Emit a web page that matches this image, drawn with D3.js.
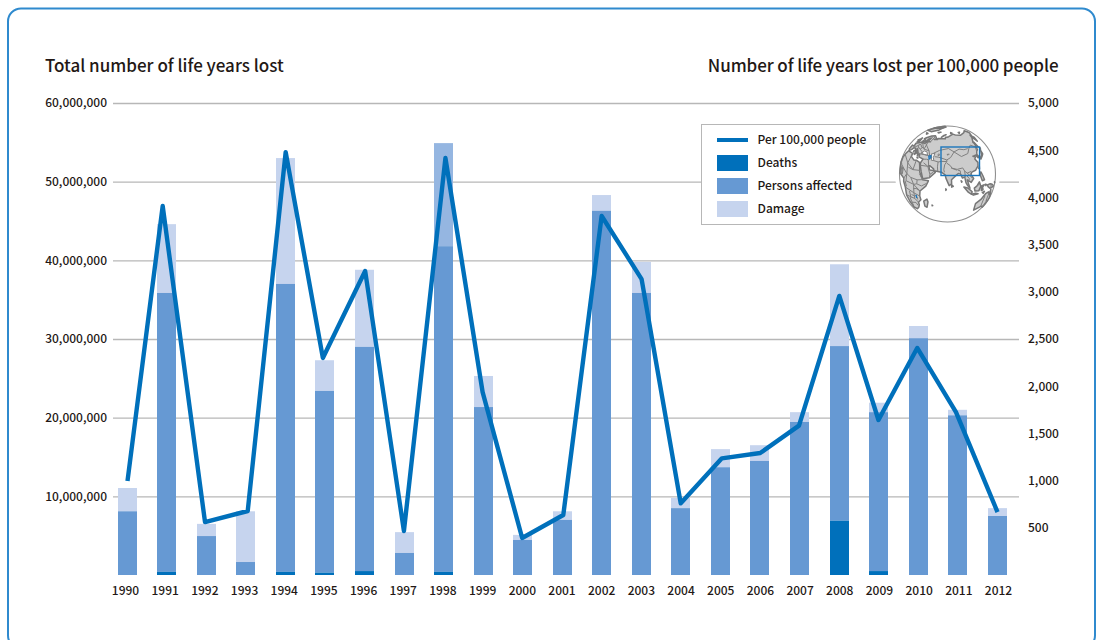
<!DOCTYPE html>
<html><head><meta charset="utf-8">
<script src="https://cdn.jsdelivr.net/npm/d3@7/dist/d3.min.js"></script>
<style>
html,body{margin:0;padding:0;background:#fff;overflow:hidden}
svg{display:block}
text,.tick text{font-family:"Noto Sans CJK JP","Noto Sans",sans-serif;font-weight:500;fill:#231815}
</style></head><body>
<svg id="c" width="1101" height="640"></svg>
<script>
const years=["1990","1991","1992","1993","1994","1995","1996","1997","1998","1999","2000","2001","2002","2003","2004","2005","2006","2007","2008","2009","2010","2011","2012"];
const deaths=[0,0.4,0,0,0.4,0.3,0.5,0,0.4,0,0,0,0,0,0,0,0,0,6.9,0.5,0,0,0];
const personsTop=[8.1,35.85,4.95,1.65,37,23.4,29,2.8,41.8,21.35,4.45,7.0,46.3,35.85,8.5,13.7,14.5,19.45,29.1,20.7,30.1,20.3,7.5];
const totalTop=[11.06,44.6,6.5,8.1,53,27.3,38.8,5.45,54.9,25.3,5.1,8.1,48.3,39.8,9.8,16,16.5,20.7,39.5,21.9,31.65,21,8.5];
const per100k=[996,3909,561,678,4480,2299,3220,466,4417,1938,392,636,3803,3135,760,1236,1292,1582,2956,1642,2405,1725,667];
// the line's points sit slightly off the bar centres in the picture: read as decimal years
const lineYears=[1990,1990.89,1991.96,1993.04,1994,1994.94,1996.01,1996.99,1998.04,1998.98,1999.98,2001.02,2001.99,2003,2003.99,2005.03,2006,2006.98,2008,2008.99,2009.97,2010.95,2012];
const leftTicks=[10,20,30,40,50,60];
const rightTicks=[500,1000,1500,2000,2500,3000,3500,4000,4500,5000];
const legendItems=["Per 100,000 people","Deaths","Persons affected","Damage"];
const darkerDamageYear="1998";

const C={deaths:"#0070bb",persons:"#6699d3",damage:"#c6d4ee",damage2:"#95b6e1",line:"#0070bb",grid:"#b7b7b7",frame:"#2f8ace"};
const svg=d3.select("#c");
svg.append("rect").attr("x",8).attr("y",8.5).attr("width",1087).attr("height",640).attr("rx",13)
  .attr("fill","#fff").attr("stroke",C.frame).attr("stroke-width",2);

const yL=d3.scaleLinear().domain([0,60]).range([575,103]);
const yR=d3.scaleLinear().domain([0,5000]).range([575,103]);
const xB=d3.scaleBand().domain(years).range([107.73,1017.27]).paddingInner(0.5195).paddingOuter(0.25975);
const xT=d3.scalePoint().domain(years).range([125,998]);
const xL=d3.scaleLinear().domain([1990,2012]).range([127.5,997.5]);
const barX=y=>Math.floor(xB(y)+0.2);

// left axis + grid
const gl=svg.append("g").attr("transform","translate(113,0)")
 .call(d3.axisLeft(yL).tickValues(leftTicks).tickSizeInner(-906).tickSizeOuter(0).tickPadding(6)
   .tickFormat(d=>d3.format(",")(d*1e6)));
gl.select(".domain").remove();
gl.selectAll("line").attr("stroke",C.grid).attr("stroke-width",1.3);
gl.selectAll("text").attr("font-size",12);

// right axis
const gr=svg.append("g").attr("transform","translate(1019,0)")
 .call(d3.axisRight(yR).tickValues(rightTicks).tickSize(0).tickPadding(9).tickFormat(d3.format(",")));
gr.select(".domain").remove();
gr.selectAll("text").attr("font-size",12);

// bottom axis
const gb=svg.append("g").attr("transform","translate(0,583)")
 .call(d3.axisBottom(xT).tickSize(0).tickPadding(3));
gb.select(".domain").remove();
gb.selectAll("text").attr("font-size",12);

// bars
const rows=years.map((y,i)=>({y,d:deaths[i],p:personsTop[i],t:totalTop[i],v:per100k[i],ly:lineYears[i]}));
const bw=19;
svg.append("g").selectAll("rect").data(rows).join("rect")
 .attr("x",d=>barX(d.y)).attr("width",bw).attr("y",d=>yL(d.t)).attr("height",d=>yL(d.p)-yL(d.t))
 .attr("fill",d=>d.y===darkerDamageYear?C.damage2:C.damage);
svg.append("g").selectAll("rect").data(rows).join("rect")
 .attr("x",d=>barX(d.y)).attr("width",bw).attr("y",d=>yL(d.p)).attr("height",d=>yL(d.d)-yL(d.p))
 .attr("fill",C.persons);
svg.append("g").selectAll("rect").data(rows.filter(d=>d.d>0)).join("rect")
 .attr("x",d=>barX(d.y)).attr("width",bw).attr("y",d=>yL(d.d)).attr("height",d=>yL(0)-yL(d.d))
 .attr("fill",C.deaths);

// line
svg.append("path").datum(rows)
 .attr("d",d3.line().x(d=>xL(d.ly)).y(d=>yR(d.v)))
 .attr("fill","none").attr("stroke",C.line).attr("stroke-width",4.4).attr("stroke-linejoin","round");

// titles
svg.append("text").attr("x",45).attr("y",71.5).attr("font-size",17).text("Total number of life years lost");
svg.append("text").attr("x",1058.5).attr("y",71.5).attr("font-size",17).attr("text-anchor","end").attr("letter-spacing","-0.09").text("Number of life years lost per 100,000 people");

// legend
svg.append("rect").attr("x",701.5).attr("y",124.5).attr("width",178).attr("height",100).attr("fill","#fff").attr("stroke",C.grid);
const lg=svg.append("g");
const legendY=[140,163,186,209];
const legendTextY=[144.2,167.2,189.7,212.7];
const legendFill=[C.line,C.deaths,C.persons,C.damage];
legendItems.forEach((t,i)=>{
  if(i===0) lg.append("rect").attr("x",717).attr("y",138).attr("width",31).attr("height",4).attr("fill",legendFill[i]);
  else lg.append("rect").attr("x",717).attr("y",legendY[i]-8).attr("width",31).attr("height",16).attr("fill",legendFill[i]);
  lg.append("text").attr("x",757.5).attr("y",legendTextY[i]).attr("font-size",12).text(t);
});

// locator globe: hand-read coarse outlines [lon,lat]
const eurasia=[[-9,37],[-9,43],[-1,44],[-4,48],[2,51],[8,54],[9,57],[11,54],[20,55],[24,59],[30,60],[22,60],[22,65],[18,62],[17,58],[13,55],[11,59],[5,59],[6,62],[14,68],[25,71],[40,67],[34,65],[44,66],[44,68],[68,69],[67,72],[73,72],[80,73],[105,77],[113,74],[130,71],[160,70],[180,69],[180,65],[178,62],[163,60],[163,56],[156,51],[156,58],[163,62],[155,59],[140,54],[141,52],[135,44],[130,42],[127,39],[129,35],[126,35],[125,39],[121,39],[118,39],[122,37],[119,35],[122,30],[120,26],[114,22],[108,21],[106,19],[109,13],[105,9],[100,13],[103,2],[100,6],[98,10],[97,17],[94,16],[92,21],[89,22],[86,20],[80,15],[80,10],[77,8],[73,17],[72,21],[67,24],[57,25],[56,27],[50,30],[48,30],[51,25],[56,25],[59,23],[52,16],[43,13],[39,21],[35,28],[34,31],[36,36],[27,37],[26,40],[23,40],[23,37],[19,42],[13,45],[18,40],[16,38],[12,42],[8,44],[3,43],[0,39],[-5,36],[-9,37]];
const africa=[[-6,35],[10,37],[11,33],[20,31],[25,32],[32,31],[34,28],[37,20],[43,12],[51,12],[48,5],[40,-3],[39,-10],[40,-15],[35,-20],[35,-24],[32,-29],[26,-34],[18,-34],[12,-17],[13,-6],[9,0],[9,4],[-4,5],[-8,4],[-17,14],[-16,22],[-10,30],[-6,35]];
const australia=[[114,-22],[122,-18],[130,-12],[136,-12],[140,-17],[142,-11],[146,-19],[153,-27],[150,-37],[143,-39],[138,-35],[130,-32],[116,-34],[114,-22]];
const islands=[
 [[95,5],[100,3],[106,-3],[105,-6],[101,-3],[95,5]],
 [[109,1],[113,3],[117,7],[119,1],[116,-4],[110,-3],[109,1]],
 [[105,-6],[111,-6],[115,-8],[108,-8],[105,-6]],
 [[120,1],[125,1],[122,-1],[123,-5],[120,-5],[120,1]],
 [[131,-1],[138,-2],[146,-6],[151,-10],[143,-9],[138,-8],[133,-4],[131,-1]],
 [[120,18],[122,18],[124,13],[126,7],[122,7],[120,14],[120,18]],
 [[130,32],[135,34],[140,36],[141,41],[140,40],[136,36],[131,34],[130,32]],
 [[140,42],[145,44],[143,42],[140,42]],
 [[142,46],[143,54],[142,54],[142,46]],
 [[80,9],[82,7],[80,6],[80,9]],
 [[44,-16],[49,-12],[50,-16],[47,-25],[44,-24],[44,-16]],
 [[-5,50],[1,52],[-2,56],[-5,58],[-5,50]],
 [[-10,52],[-6,55],[-6,52],[-10,52]],
 [[-24,64],[-14,66],[-14,64],[-24,64]],
 [[52,71],[56,73],[68,77],[58,75],[52,71]],
 [[14,77],[25,80],[22,77],[14,77]],
 [[-50,60],[-20,70],[-20,80],[-60,82],[-55,70],[-50,60]],
 [[-95,72],[-70,70],[-62,66],[-65,82],[-95,80],[-95,72]],
 [[95,79],[105,79],[100,81],[95,79]],
 [[138,74],[150,75],[142,76],[138,74]],
 [[120,23],[122,25],[121,22],[120,23]],
 [[9,41],[10,39],[9,39],[9,41]],
 [[13,38],[15,38],[15,37],[13,38]],
 [[25,35],[26,35.3],[24,35.2],[25,35]],
 [[55,-20],[55.8,-20.6],[55,-21],[55,-20]],
 [[73,4],[73.6,3],[73,2],[73,4]],
 [[92,13],[93,12],[92.5,11],[92,13]],
 [[122,-8],[126,-8],[124,-10],[122,-8]],
 [[127,1],[129,0],[128,-1],[127,1]],
 [[146,-41],[148,-41],[147,-43],[146,-41]],
 [[155,-6],[160,-9],[157,-8],[155,-6]]
];
const seas=[
 [[47,45],[53,46],[52,41],[54,37],[50,37],[49,41],[47,45]],
 [[28,42],[31,46],[37,46],[41,42],[35,42],[28,42]],
 [[59,46],[61,46],[61,44],[59,44],[59,46]],
 [[74,46],[78,46.5],[76,45],[74,46]]
];
const borders=[
 [[74,39],[80,42],[87,49],[98,42],[111,44],[119,50],[127,53],[135,48],[131,43]],
 [[87,49],[98,52],[107,50],[116,50]],
 [[50,46],[60,51],[77,54],[87,49]],
 [[54,42],[60,42],[66,41],[74,39]],
 [[54,37],[61,36],[66,37],[74,37],[74,39]],
 [[61,36],[61,30],[62,25]],
 [[74,37],[71,33],[70,27],[71,24]],
 [[74,35],[79,32],[81,29],[88,27],[96,28],[98,24],[101,21],[107,22]],
 [[80,29],[88,26]],
 [[89,26],[92,25],[92,21]],
 [[98,24],[98,17]],[[101,21],[105,17],[107,14]],[[100,18],[103,14],[102,12]],
 [[45,37],[48,30]],[[36,36],[42,37],[45,37]],[[35,28],[47,29],[52,20],[56,23]],[[39,32],[47,29]],[[52,20],[52,16]],
 [[45,42],[27,41]],[[24,59],[28,48],[40,48],[45,42]],[[14,54],[23,50],[28,48]],[[2,43],[8,48],[14,54]],
 [[30,60],[28,70]],[[14,68],[24,66],[22,60]],[[24,55],[32,52],[40,48]],[[23,50],[20,46],[28,44],[27,41]],[[14,47],[20,46]],[[8,48],[14,47],[13,45]],[[6,50],[14,51]],[[18,42],[22,41],[26,41]],[[15,51],[19,49],[23,49]],
 [[25,32],[25,20],[37,22]],[[10,37],[10,24],[25,20]],[[-10,28],[10,24]],[[10,24],[15,12],[24,10],[35,10],[43,12]],
 [[-16,16],[4,15],[15,12]],[[9,4],[15,12]],[[24,10],[30,3],[40,-3]],[[13,-6],[30,-8],[39,-10]],
 [[30,3],[30,-8],[30,-16],[35,-20]],[[12,-17],[30,-16]],[[20,-18],[20,-30],[18,-29]],[[20,-25],[30,-22],[32,-26]],
 [[35,5],[42,4],[48,8]],[[-8,10],[4,15]],[[0,5],[0,15]],[[15,20],[25,20]],[[15,12],[15,3],[30,3]],[[16,-4],[13,2]],[[35,10],[35,5],[30,3]],[[37,18],[43,12]],[[34,-1],[40,-3]],[[29,-3],[34,-1]],[[22,-8],[22,-18]],[[25,-12],[30,-12]],[[33,-10],[35,-16]],[[3,7],[3,15]],[[-4,5],[-4,15]],
 [[100,6],[102,6]],[[141,-3],[141,-9]],[[113,3],[117,4]],
 [[129,-15],[129,-31]],[[138,-16],[138,-26],[141,-26],[141,-37]]
];
const blueMarks=[[[47,43],[48,40],[46,38],[44,41],[47,43]],[[33,-10],[34,-14]]];

const gx=947.5,gy=174,gr0=48;
const proj=d3.geoOrthographic().rotate([-75,-22]).scale(gr0).translate([gx,gy]).clipAngle(90).precision(0.5);
const gp=d3.geoPath(proj);
const poly=r=>{let f={type:"Polygon",coordinates:[r]}; if(d3.geoArea(f)>2*Math.PI) f={type:"Polygon",coordinates:[r.slice().reverse()]}; return f;};
const gg=svg.append("g");
gg.append("circle").attr("cx",gx).attr("cy",gy).attr("r",52.5).attr("fill","#fff");
gg.append("circle").attr("cx",gx).attr("cy",gy).attr("r",gr0).attr("fill","#fff").attr("stroke","#8f8f8f").attr("stroke-width",1.1);
const land=[eurasia,africa,australia,...islands];
gg.selectAll("path.land").data(land).join("path").attr("class","land").attr("d",r=>gp(poly(r)))
  .attr("fill","#cccccc").attr("stroke","#777").attr("stroke-width",1.5).attr("stroke-linejoin","round");
gg.selectAll("path.sea").data(seas).join("path").attr("class","sea").attr("d",r=>gp(poly(r)))
  .attr("fill","#fff").attr("stroke","#777").attr("stroke-width",0.9);
gg.append("path").attr("d",gp({type:"MultiLineString",coordinates:borders})).attr("fill","none").attr("stroke","#808080").attr("stroke-width",1);
gg.append("path").attr("d",gp({type:"MultiLineString",coordinates:blueMarks})).attr("fill","none").attr("stroke","#1c76bb").attr("stroke-width",1.4);
gg.append("rect").attr("x",941).attr("y",147).attr("width",38.5).attr("height",28.5).attr("fill","none").attr("stroke","#1c76bb").attr("stroke-width",1.4);
</script>
</body></html>
